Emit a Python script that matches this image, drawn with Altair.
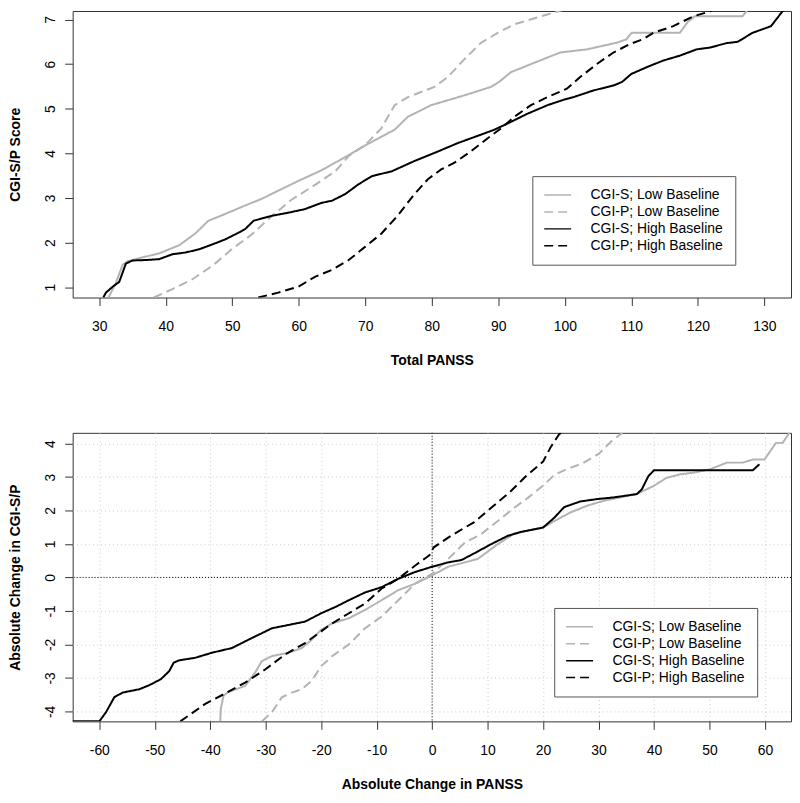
import altair as alt
import pandas as pd

SERIES = ["CGI-S; Low Baseline", "CGI-P; Low Baseline",
          "CGI-S; High Baseline", "CGI-P; High Baseline"]
COLORS = ["#b3b3b3", "#b3b3b3", "#000000", "#000000"]
DASHES = [[1, 0], [9, 5], [1, 0], [9, 5]]

# ---------------- top panel: Total PANSS vs CGI-S/P score ----------------
top_s_low_x = [31.4, 32.5, 33.5, 34.2, 36, 39, 42, 44.4, 46.4, 48.9, 51.9, 54.4, 57.4, 59.9,
               63.4, 67.5, 70, 74.4, 76.4, 79.9, 84.9, 88.9, 90.1, 91.9, 94.9, 99.3, 103.3,
               107.8, 109.2, 110.05, 117.3, 118.5, 119.5, 126.7, 127.7]
top_s_low_y = [0.77, 1.1, 1.5, 1.58, 1.65, 1.76, 1.94, 2.2, 2.49, 2.64, 2.83, 2.98, 3.2, 3.38,
               3.62, 3.96, 4.18, 4.53, 4.82, 5.08, 5.3, 5.49, 5.6, 5.82, 6.0, 6.26, 6.33,
               6.48, 6.55, 6.7, 6.7, 6.95, 7.07, 7.07, 7.26]

top_p_low_x = [38.2, 41, 44, 47, 49.9, 52.9, 55.9, 58.9, 62.5, 65.5, 67.5, 70, 72.4, 74.4,
               76.4, 80.4, 82.4, 84.9, 87.4, 89.9, 92.4, 96.4, 99.8, 101.5]
top_p_low_y = [0.77, 0.96, 1.18, 1.48, 1.85, 2.18, 2.59, 2.96, 3.3, 3.6, 3.94, 4.19, 4.56, 5.08,
               5.26, 5.49, 5.71, 6.11, 6.48, 6.7, 6.89, 7.07, 7.22, 7.26]

top_s_high_x = [30.6, 31, 32, 33, 34, 35, 37, 39, 41, 43, 45, 47, 48.9, 50.9, 51.9, 53.2,
                55.9, 58.4, 60.9, 63.4, 65, 67, 69, 71, 74, 77.4, 80.4, 83.9, 87.4, 89.4,
                91.4, 94.4, 97.4, 99.8, 101.3, 104.3, 107.3, 108.6, 110, 112.3, 114.8, 117.3,
                119.8, 121.8, 124.3, 126, 128.2, 131, 132.7, 133.3]
top_s_high_y = [0.77, 0.88, 1.01, 1.12, 1.53, 1.6, 1.61, 1.63, 1.74, 1.78, 1.85, 1.96, 2.07,
                2.22, 2.3, 2.49, 2.6, 2.67, 2.75, 2.89, 2.94, 3.09, 3.31, 3.49, 3.6, 3.83,
                4.01, 4.23, 4.42, 4.53, 4.67, 4.89, 5.08, 5.2, 5.26, 5.41, 5.52, 5.6, 5.78,
                5.93, 6.08, 6.19, 6.33, 6.37, 6.47, 6.5, 6.7, 6.85, 7.18, 7.26]

top_p_high_x = [53.9, 56.9, 59.9, 62.5, 65, 67.5, 70, 72.4, 74.9, 77.4, 79.4, 81.4, 83.4,
                85.9, 88.4, 90.4, 92.4, 94.9, 97.4, 100.3, 102.3, 104.8, 107.3, 109.8, 111.8,
                113.3, 116.3, 119.3, 121.8, 122.3]
top_p_high_y = [0.77, 0.88, 1.01, 1.24, 1.39, 1.61, 1.91, 2.2, 2.61, 3.09, 3.42, 3.64, 3.79,
                4.05, 4.34, 4.56, 4.82, 5.08, 5.26, 5.45, 5.71, 6.0, 6.26, 6.45, 6.56, 6.7,
                6.85, 7.07, 7.18, 7.22]

# ---------------- bottom panel: change in PANSS vs change in CGI ----------------
bot_s_low_x = [-38.2, -38.1, -37.6, -36.7, -33.7, -31.9, -30.7, -28.9, -25.9, -23.5, -21.7,
               -20, -18, -15, -12.1, -9.1, -6.1, -3.1, 0, 2.9, 8.2, 11.8, 14.8, 20, 22, 24.9,
               27.9, 30.9, 33.9, 36.9, 39.9, 42.3, 44.7, 47.1, 50.1, 53.1, 56, 57.8, 59.9, 62,
               63.2, 64.4]
bot_s_low_y = [-4.3, -3.93, -3.53, -3.42, -3.24, -2.84, -2.5, -2.35, -2.25, -2.11, -1.86,
               -1.56, -1.37, -1.22, -0.97, -0.68, -0.38, -0.19, 0.06, 0.32, 0.55, 0.99, 1.31,
               1.49, 1.68, 1.94, 2.14, 2.29, 2.39, 2.49, 2.73, 2.98, 3.08, 3.13, 3.23, 3.43,
               3.43, 3.52, 3.52, 4.02, 4.02, 4.32]

bot_p_low_x = [-30.7, -28.9, -27.1, -25.3, -23.5, -21.7, -20, -18, -15, -12.1, -9.1, -6.1,
               -3.1, 0, 2.9, 5.9, 8.8, 11.8, 14.8, 17.2, 20.2, 22, 24.1, 27.1, 30.1, 32.5, 34.3]
bot_p_low_y = [-4.3, -4.03, -3.58, -3.44, -3.34, -3.09, -2.65, -2.35, -2.0, -1.52, -1.17,
               -0.68, -0.19, 0.11, 0.55, 1.04, 1.29, 1.68, 2.08, 2.37, 2.77, 3.06, 3.22, 3.41,
               3.7, 4.1, 4.32]

bot_s_high_x = [-64.8, -60, -58.8, -57.3, -55.8, -52.8, -51, -48.9, -47.4, -46.6, -45.7,
                -42.7, -39.7, -36.1, -33.1, -28.9, -25.9, -22.9, -20, -17.4, -15, -12.1, -9.1,
                -6.1, -3.1, 0, 2.9, 5.3, 7.6, 10.6, 13.6, 16, 20, 22, 23.8, 26.7, 29.7, 32.7,
                36.9, 37.8, 39, 40, 57.8, 59]
bot_s_high_y = [-4.3, -4.3, -4.03, -3.58, -3.44, -3.34, -3.22, -3.04, -2.8, -2.55, -2.48,
                -2.4, -2.25, -2.11, -1.86, -1.52, -1.42, -1.32, -1.07, -0.88, -0.68, -0.45,
                -0.29, -0.04, 0.16, 0.32, 0.45, 0.52, 0.72, 0.99, 1.24, 1.36, 1.49, 1.78, 2.1,
                2.27, 2.34, 2.39, 2.49, 2.63, 3.03, 3.2, 3.2, 3.38]

bot_p_high_x = [-45.4, -40.9, -37, -33.7, -30.1, -26.5, -22.9, -20, -18, -15, -12.1, -9.1,
                -6.1, -3.1, -0.5, 0.3, 2.9, 5.9, 7.6, 10, 13.9, 16.9, 20, 21.4, 22.9, 23.3]
bot_p_high_y = [-4.3, -3.78, -3.44, -3.14, -2.75, -2.3, -1.96, -1.61, -1.37, -1.07, -0.78,
                -0.33, -0.04, 0.35, 0.66, 0.9, 1.19, 1.49, 1.65, 1.99, 2.53, 3.02, 3.46, 3.9,
                4.28, 4.32]

TOP_X_TICKS = list(range(30, 131, 10))
TOP_Y_TICKS = list(range(1, 8))
BOT_X_TICKS = list(range(-60, 61, 10))
BOT_Y_TICKS = list(range(-4, 5))
ZERO = [0]


def make_df(pairs):
    rows = []
    for name, (xs, ys) in zip(SERIES, pairs):
        for i, (x, y) in enumerate(zip(xs, ys)):
            rows.append({"series": name, "x": x, "y": y, "i": i})
    return pd.DataFrame(rows)


top_df = make_df([(top_s_low_x, top_s_low_y), (top_p_low_x, top_p_low_y),
                  (top_s_high_x, top_s_high_y), (top_p_high_x, top_p_high_y)])
bot_df = make_df([(bot_s_low_x, bot_s_low_y), (bot_p_low_x, bot_p_low_y),
                  (bot_s_high_x, bot_s_high_y), (bot_p_high_x, bot_p_high_y)])

FONT = "Liberation Sans"
LABEL_EXPR = "'' + datum.value"  # plain hyphen-minus, as in the original


def legend(lx, ly):
    return alt.Legend(title=None, orient="none", legendX=lx, legendY=ly,
                      symbolType="M-2.5,0H2.5", symbolSize=117, symbolStrokeWidth=1.5,
                      symbolOffset=6.5, labelOffset=26, labelFont=FONT, labelFontSize=14,
                      labelColor="black", padding=12, rowPadding=3, fillColor="white",
                      strokeColor="#555555", labelLimit=0)


def yaxis(title, ticks, grid, h):
    return alt.Axis(title=title, values=ticks, grid=grid, labelAngle=270,
                    labelAlign="center", labelBaseline="alphabetic", labelPadding=10,
                    labelOverlap=False, tickCount=len(ticks), labelExpr=LABEL_EXPR,
                    titleAngle=270, titleAlign="center", titleBaseline="alphabetic",
                    titleX=-53, titleY=h)


def xaxis(title, ticks, grid):
    return alt.Axis(title=title, values=ticks, grid=grid, labelPadding=14,
                    labelOverlap=False, tickCount=len(ticks), labelExpr=LABEL_EXPR,
                    labelBaseline="top", titleBaseline="top", titleAlign="center",
                    titleX=361, titleY=56, labelFlush=False)


def panel(df, xdom, ydom, xt, yt, xtitle, ytitle, grid, lx, ly, w, h, zero_lines):
    xs = alt.Scale(domain=xdom, nice=False, zero=False)
    ys = alt.Scale(domain=ydom, nice=False, zero=False)
    xa = xaxis(xtitle, xt, grid)
    ya = yaxis(ytitle, yt, grid, h / 2)
    ln = alt.Chart(df).mark_line(strokeWidth=2, clip=True).encode(
        x=alt.X("x:Q", scale=xs, axis=xa),
        y=alt.Y("y:Q", scale=ys, axis=ya),
        color=alt.Color("series:N", scale=alt.Scale(domain=SERIES, range=COLORS),
                        legend=legend(lx, ly)),
        strokeDash=alt.StrokeDash("series:N", scale=alt.Scale(domain=SERIES, range=DASHES),
                                  legend=legend(lx, ly)),
        order="i:Q",
    )
    if not zero_lines:
        return ln.properties(width=w, height=h)
    zdf = pd.DataFrame({"x": ZERO, "y": ZERO})
    vline = alt.Chart(zdf).mark_rule(color="black", strokeDash=[1, 2], strokeWidth=1).encode(
        x=alt.X("x:Q", scale=xs, axis=xa))
    hline = alt.Chart(zdf).mark_rule(color="black", strokeDash=[1, 2], strokeWidth=1).encode(
        y=alt.Y("y:Q", scale=ys, axis=ya))
    return alt.layer(vline, hline, ln).properties(width=w, height=h)


top = panel(top_df, [26, 134], [0.77, 7.19], TOP_X_TICKS, TOP_Y_TICKS,
            "Total PANSS", "CGI-S/P Score", False, 462, 166, 722, 288, False)
bottom = panel(bot_df, [-64.8, 64.7], [-4.30, 4.32], BOT_X_TICKS, BOT_Y_TICKS,
               "Absolute Change in PANSS", "Absolute Change in CGI-S/P", True, 484, 176,
               722, 290, True)

chart = alt.vconcat(top, bottom, spacing=64).resolve_scale(
    color="independent", strokeDash="independent"
).properties(
    padding={"left": 0, "top": 0, "right": 0, "bottom": 0}
).configure_axis(
    labelFont=FONT, labelFontSize=14, labelColor="black",
    titleFont=FONT, titleFontSize=14, titleFontWeight="bold", titleColor="black",
    tickColor="#333333", tickSize=8, tickWidth=1, domain=False,
    gridColor="#cccccc", gridDash=[1, 3], gridWidth=1,
).configure_view(stroke="#333333", strokeWidth=1)

chart.save("out.html", embed_options={"renderer": "svg", "actions": False})
